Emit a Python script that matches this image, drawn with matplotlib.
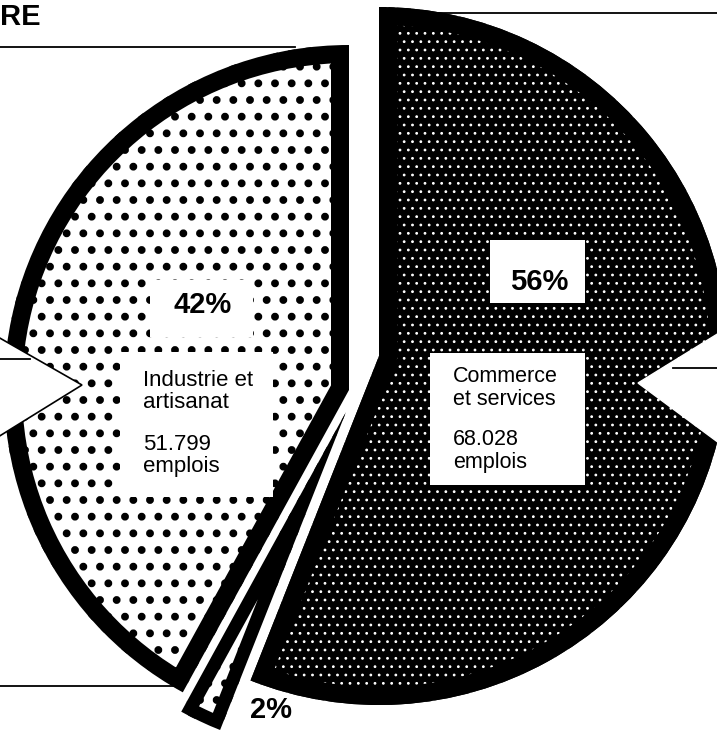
import matplotlib.pyplot as plt
from matplotlib.patches import Wedge, Rectangle, Polygon
import numpy as np

plt.rcParams['font.family'] = ['Liberation Sans', 'DejaVu Sans']

### data, clockwise from 12 o'clock
shares = [56, 2, 42]
share_labels = ['56%', '2%', '42%']
sectors = ['Commerce\net services', '', 'Industrie et\nartisanat']
jobs = ['68.028\nemplois', '', '51.799\nemplois']

### layout (image pixels, y down)
W, H = 717, 735
centers = [(379, 356), (346, 412), (349, 390)]
radii = [349, 342, 345]
faces = ['black', 'white', 'white']
dots = ['white', 'black', 'black']
hatches = ['..', '.', '.']
hatch_lw = [0.8, 3.2, 3.2]
borders = [18, 13, 18]  # px

fig = plt.figure(figsize=(W / 100, H / 100), dpi=100)
ax = fig.add_axes([0, 0, 1, 1])
ax.set_xlim(0, W)
ax.set_ylim(H, 0)
ax.set_aspect('equal')
ax.axis('off')

### wedges: angles from the shares (y axis is flipped, so + is clockwise)
edges = -90 + 360 * np.concatenate([[0], np.cumsum(shares)]) / sum(shares)
for i in range(len(shares)):
    with plt.rc_context({'hatch.linewidth': hatch_lw[i]}):
        fill = Wedge(centers[i], radii[i], edges[i], edges[i + 1],
                     facecolor=faces[i], edgecolor=dots[i], linewidth=0,
                     hatch=hatches[i])
        if hasattr(fill, 'set_hatch_linewidth'):
            fill.set_hatch_linewidth(hatch_lw[i])
        ax.add_patch(fill)
    rim = Wedge(centers[i], radii[i], edges[i], edges[i + 1],
                facecolor='none', edgecolor='black',
                linewidth=2 * borders[i] * 72 / fig.dpi)
    ax.add_patch(rim)
    rim.set_clip_path(rim)

### white label boxes
for x0, y0, x1, y1 in [(150, 280, 253, 337), (120, 352, 273, 497),
                       (490, 240, 585, 303), (430, 353, 585, 485)]:
    ax.add_patch(Rectangle((x0, y0), x1 - x0, y1 - y0, facecolor='white',
                           edgecolor='none', zorder=3))

pct_kw = dict(fontsize=21, fontweight='bold', va='baseline', zorder=4)
txt_kw = dict(fontsize=15.5, va='baseline', ha='left', zorder=4,
              linespacing=1.1)
ax.text(510, 290, share_labels[0], ha='left', **pct_kw)
ax.text(250, 718, share_labels[1], ha='left', **pct_kw)
ax.text(174, 313, share_labels[2], ha='left', **pct_kw)
ax.text(453, 405, sectors[0], **txt_kw)
ax.text(453, 468, jobs[0], **txt_kw)
ax.text(143, 408, sectors[2], fontsize=16, va='baseline', ha='left',
        zorder=4, linespacing=1.07)
ax.text(143, 472, jobs[2], fontsize=16, va='baseline', ha='left',
        zorder=4, linespacing=1.07)

### arrow notches cut into the pie
ax.add_patch(Polygon([(-2, 337), (82, 385), (-2, 437)], closed=True,
                     facecolor='white', edgecolor='black', linewidth=1.2,
                     zorder=5))
ax.add_patch(Polygon([(719, 333), (638, 383), (719, 443)], closed=True,
                     facecolor='white', edgecolor='white', linewidth=1,
                     zorder=5))

### page rules and heading fragment
for x0, x1, y in [(0, 295, 47), (437, 717, 13), (0, 180, 686),
                  (673, 717, 368), (0, 30, 359)]:
    ax.plot([x0, x1], [y, y], color='black', linewidth=1.3, zorder=6)
ax.text(0, 25, 'RE', fontsize=21, fontweight='bold', ha='left',
        va='baseline')

fig.savefig('out.png', dpi=100)
